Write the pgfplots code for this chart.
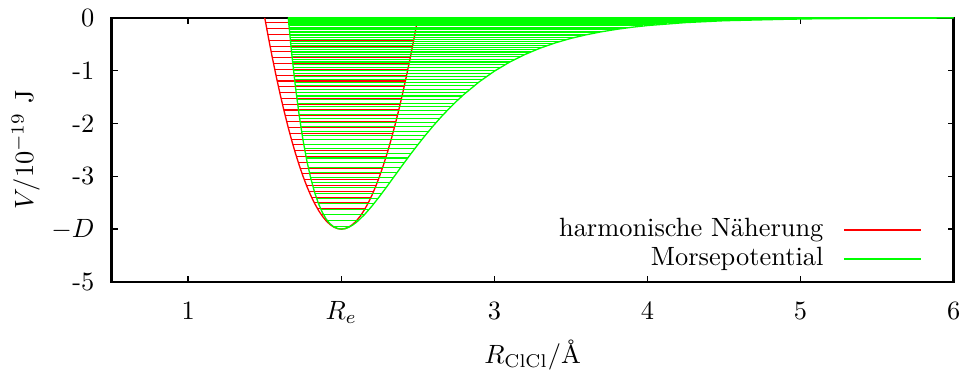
\documentclass[border=0pt]{standalone}
\usepackage{pgfplots}
\pgfplotsset{compat=1.18}
\begin{document}
\begin{tikzpicture}
\begin{axis}[
  scale only axis, width=318.9pt, height=100pt,
  at={(0,0)}, anchor=south west,
  xmin=0.5, xmax=6, ymin=-5, ymax=0,
  clip bounding box=upper bound,
  xtick={1,2,3,4,5,6}, xticklabels={1,$R_e$,3,4,5,6},
  ytick={-5,-4,-3,-2,-1,0}, yticklabels={-5,$-D$,-3,-2,-1,0},
  tick align=inside, tick pos=both, major tick length=2.3pt,
  every tick/.style={black, line width=0.6pt},
  axis line style={line width=0.9pt, black},
  xticklabel style={yshift=-4pt},
  yticklabel style={xshift=-3pt},
  xlabel={$R_{\mathrm{ClCl}}/$\AA},
  ylabel={$V/10^{-19}$ J},
  every axis x label/.style={at={(axis description cs:0.5,0)}, anchor=base, yshift=-31pt},
  every axis y label/.style={at={(axis description cs:-0.102,0.5)}, rotate=90, anchor=center},
  legend plot pos=right,
  legend cell align=right,
  legend image code/.code={\draw[#1, line width=0.6pt] (0pt,0pt) -- (29pt,0pt);},
  legend style={draw=none, fill=none, inner sep=0pt, row sep=0pt, column sep=6.5pt,
    at={(rel axis cs:1,0)}, anchor=south east, xshift=-12pt, yshift=3pt,
    nodes={inner sep=1pt, text height=7pt, text depth=2pt}},
]
% harmonic levels
\addplot[red, line width=0.4pt, forget plot, unbounded coords=jump] coordinates {
(1.941,-3.945) (2.059,-3.945) (nan,nan)
(1.898,-3.835) (2.102,-3.835) (nan,nan)
(1.869,-3.725) (2.131,-3.725) (nan,nan)
(1.845,-3.615) (2.155,-3.615) (nan,nan)
(1.824,-3.505) (2.176,-3.505) (nan,nan)
(1.806,-3.395) (2.194,-3.395) (nan,nan)
(1.789,-3.285) (2.211,-3.285) (nan,nan)
(1.773,-3.175) (2.227,-3.175) (nan,nan)
(1.758,-3.065) (2.242,-3.065) (nan,nan)
(1.744,-2.955) (2.256,-2.955) (nan,nan)
(1.731,-2.845) (2.269,-2.845) (nan,nan)
(1.719,-2.735) (2.281,-2.735) (nan,nan)
(1.707,-2.625) (2.293,-2.625) (nan,nan)
(1.695,-2.515) (2.305,-2.515) (nan,nan)
(1.684,-2.405) (2.316,-2.405) (nan,nan)
(1.674,-2.295) (2.326,-2.295) (nan,nan)
(1.663,-2.185) (2.337,-2.185) (nan,nan)
(1.653,-2.075) (2.347,-2.075) (nan,nan)
(1.643,-1.965) (2.357,-1.965) (nan,nan)
(1.634,-1.855) (2.366,-1.855) (nan,nan)
(1.625,-1.745) (2.375,-1.745) (nan,nan)
(1.616,-1.635) (2.384,-1.635) (nan,nan)
(1.607,-1.525) (2.393,-1.525) (nan,nan)
(1.598,-1.415) (2.402,-1.415) (nan,nan)
(1.590,-1.305) (2.410,-1.305) (nan,nan)
(1.581,-1.195) (2.419,-1.195) (nan,nan)
(1.573,-1.085) (2.427,-1.085) (nan,nan)
(1.565,-0.975) (2.435,-0.975) (nan,nan)
(1.557,-0.865) (2.443,-0.865) (nan,nan)
(1.550,-0.755) (2.450,-0.755) (nan,nan)
(1.542,-0.645) (2.458,-0.645) (nan,nan)
(1.535,-0.535) (2.465,-0.535) (nan,nan)
(1.527,-0.425) (2.473,-0.425) (nan,nan)
(1.520,-0.315) (2.480,-0.315) (nan,nan)
(1.513,-0.205) (2.487,-0.205) (nan,nan)
(1.506,-0.095) (2.494,-0.095)
};
% harmonic potential
\addplot[red, line width=0.5pt] coordinates {
(1.5,0) (1.525,-0.39) (1.55,-0.76) (1.575,-1.11) (1.6,-1.44) (1.625,-1.75)
(1.65,-2.04) (1.675,-2.31) (1.7,-2.56) (1.725,-2.79) (1.75,-3.0) (1.775,-3.19)
(1.8,-3.36) (1.825,-3.51) (1.85,-3.64) (1.875,-3.75) (1.9,-3.84) (1.925,-3.91)
(1.95,-3.96) (1.975,-3.99) (2,-4) (2.025,-3.99) (2.05,-3.96) (2.075,-3.91)
(2.1,-3.84) (2.125,-3.75) (2.15,-3.64) (2.175,-3.51) (2.2,-3.36) (2.225,-3.19)
(2.25,-3.0) (2.275,-2.79) (2.3,-2.56) (2.325,-2.31) (2.35,-2.04) (2.375,-1.75)
(2.4,-1.44) (2.425,-1.11) (2.45,-0.76) (2.475,-0.39) (2.5,0)
};
\addlegendentry{harmonische Näherung}
% Morse levels
\addplot[green, line width=0.4pt, forget plot, unbounded coords=jump] coordinates {
(1.945,-3.945) (2.062,-3.945) (nan,nan)
(1.908,-3.837) (2.113,-3.837) (nan,nan)
(1.884,-3.730) (2.151,-3.730) (nan,nan)
(1.866,-3.624) (2.183,-3.624) (nan,nan)
(1.851,-3.520) (2.213,-3.520) (nan,nan)
(1.838,-3.418) (2.240,-3.418) (nan,nan)
(1.827,-3.317) (2.267,-3.317) (nan,nan)
(1.817,-3.218) (2.292,-3.218) (nan,nan)
(1.808,-3.120) (2.317,-3.120) (nan,nan)
(1.799,-3.023) (2.341,-3.023) (nan,nan)
(1.791,-2.928) (2.365,-2.928) (nan,nan)
(1.784,-2.835) (2.388,-2.835) (nan,nan)
(1.778,-2.743) (2.411,-2.743) (nan,nan)
(1.771,-2.653) (2.434,-2.653) (nan,nan)
(1.765,-2.564) (2.457,-2.564) (nan,nan)
(1.760,-2.477) (2.480,-2.477) (nan,nan)
(1.754,-2.391) (2.503,-2.391) (nan,nan)
(1.749,-2.307) (2.526,-2.307) (nan,nan)
(1.745,-2.224) (2.549,-2.224) (nan,nan)
(1.740,-2.143) (2.572,-2.143) (nan,nan)
(1.736,-2.063) (2.595,-2.063) (nan,nan)
(1.732,-1.985) (2.619,-1.985) (nan,nan)
(1.728,-1.908) (2.642,-1.908) (nan,nan)
(1.724,-1.833) (2.666,-1.833) (nan,nan)
(1.721,-1.759) (2.690,-1.759) (nan,nan)
(1.717,-1.687) (2.715,-1.687) (nan,nan)
(1.714,-1.616) (2.739,-1.616) (nan,nan)
(1.711,-1.547) (2.764,-1.547) (nan,nan)
(1.708,-1.479) (2.790,-1.479) (nan,nan)
(1.705,-1.413) (2.815,-1.413) (nan,nan)
(1.702,-1.349) (2.842,-1.349) (nan,nan)
(1.700,-1.285) (2.868,-1.285) (nan,nan)
(1.697,-1.224) (2.895,-1.224) (nan,nan)
(1.695,-1.164) (2.923,-1.164) (nan,nan)
(1.692,-1.105) (2.951,-1.105) (nan,nan)
(1.690,-1.048) (2.980,-1.048) (nan,nan)
(1.688,-0.993) (3.009,-0.993) (nan,nan)
(1.686,-0.938) (3.039,-0.938) (nan,nan)
(1.684,-0.886) (3.070,-0.886) (nan,nan)
(1.682,-0.835) (3.102,-0.835) (nan,nan)
(1.680,-0.785) (3.134,-0.785) (nan,nan)
(1.678,-0.737) (3.167,-0.737) (nan,nan)
(1.677,-0.691) (3.201,-0.691) (nan,nan)
(1.675,-0.646) (3.237,-0.646) (nan,nan)
(1.673,-0.603) (3.273,-0.603) (nan,nan)
(1.672,-0.561) (3.311,-0.561) (nan,nan)
(1.671,-0.520) (3.349,-0.520) (nan,nan)
(1.669,-0.481) (3.390,-0.481) (nan,nan)
(1.668,-0.444) (3.431,-0.444) (nan,nan)
(1.667,-0.408) (3.475,-0.408) (nan,nan)
(1.666,-0.374) (3.520,-0.374) (nan,nan)
(1.664,-0.341) (3.567,-0.341) (nan,nan)
(1.663,-0.309) (3.616,-0.309) (nan,nan)
(1.662,-0.280) (3.668,-0.280) (nan,nan)
(1.662,-0.251) (3.722,-0.251) (nan,nan)
(1.661,-0.224) (3.780,-0.224) (nan,nan)
(1.660,-0.199) (3.840,-0.199) (nan,nan)
(1.659,-0.175) (3.905,-0.175) (nan,nan)
(1.658,-0.153) (3.973,-0.153) (nan,nan)
(1.658,-0.132) (4.047,-0.132) (nan,nan)
(1.657,-0.113) (4.126,-0.113) (nan,nan)
(1.656,-0.095) (4.212,-0.095) (nan,nan)
(1.656,-0.079) (4.306,-0.079) (nan,nan)
(1.656,-0.064) (4.409,-0.064) (nan,nan)
(1.655,-0.051) (4.524,-0.051) (nan,nan)
(1.655,-0.040) (4.654,-0.040) (nan,nan)
(1.654,-0.029) (4.804,-0.029) (nan,nan)
(1.654,-0.021) (4.979,-0.021) (nan,nan)
(1.654,-0.014) (5.191,-0.014) (nan,nan)
(1.654,-0.008) (5.461,-0.008) (nan,nan)
(1.654,-0.004) (5.833,-0.004) (nan,nan)
(1.653,-0.001) (6.000,-0.001) (nan,nan)
(1.653,-0.0001) (6.000,-0.0001)
};
% Morse potential
\addplot[green, line width=0.5pt] coordinates {
(1.6534,0) (1.675,-0.647) (1.7,-1.297) (1.725,-1.849) (1.75,-2.317) (1.775,-2.708)
(1.8,-3.032) (1.825,-3.298) (1.85,-3.510) (1.875,-3.677) (1.9,-3.804) (1.925,-3.895)
(1.95,-3.956) (1.975,-3.989) (2,-4) (2.025,-3.991) (2.05,-3.964) (2.075,-3.922)
(2.1,-3.869) (2.15,-3.731) (2.2,-3.565) (2.25,-3.381) (2.3,-3.186) (2.35,-2.986)
(2.4,-2.787) (2.45,-2.591) (2.5,-2.402) (2.55,-2.220) (2.6,-2.047) (2.65,-1.883)
(2.7,-1.730) (2.75,-1.586) (2.8,-1.452) (2.9,-1.213) (3.0,-1.009) (3.1,-0.837)
(3.2,-0.693) (3.3,-0.572) (3.4,-0.472) (3.5,-0.388) (3.6,-0.320) (3.7,-0.263)
(3.8,-0.216) (3.9,-0.177) (4.0,-0.145) (4.25,-0.089) (4.5,-0.054) (5.0,-0.020)
(5.5,-0.007) (6.0,-0.003)
};
\addlegendentry{Morsepotential}
\end{axis}
\path (-42.3pt,-34.7pt) rectangle (323.4pt,105.7pt);
\end{tikzpicture}
\end{document}
